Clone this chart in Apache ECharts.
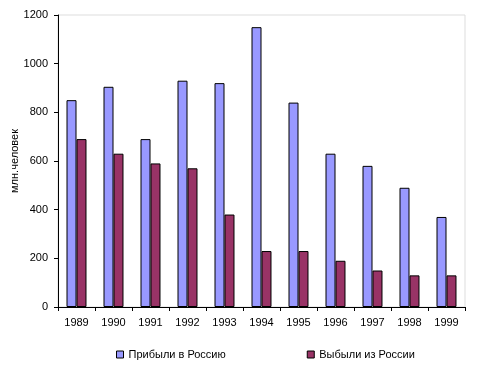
<!DOCTYPE html>
<html><head><meta charset="utf-8">
<script src="https://cdn.jsdelivr.net/npm/echarts@6/dist/echarts.min.js"></script>
<style>html,body{margin:0;padding:0;background:#fff}#c{width:480px;height:372px}</style>
</head><body><div id="c"></div>
<script>
var categories = ['1989','1990','1991','1992','1993','1994','1995','1996','1997','1998','1999'];
var arrived = [850, 905, 690, 930, 920, 1150, 840, 630, 580, 490, 370];
var departed = [690, 630, 590, 570, 380, 230, 230, 190, 150, 130, 130];
var seriesNames = ['Прибыли в Россию', 'Выбыли из России'];
var yAxisName = 'млн.человек';

var font = 'Arial, "Liberation Sans", sans-serif';
var chart = echarts.init(document.getElementById('c'), null, {renderer:'canvas'});
chart.setOption({
  animation: false,
  textStyle: {fontFamily: font},
  grid: {left: 58, right: 15, top: 15, bottom: 65, show: true, borderColor: '#dddddd', borderWidth: 1,
         containLabel: false, outerBoundsMode: 'none'},
  legend: {
    left: 111, top: 344, itemWidth: 7, itemHeight: 7, itemGap: 81,
    textStyle: {fontFamily: font, fontSize: 11, color: '#000'},
    data: [
      {name: seriesNames[0], icon: 'rect', itemStyle: {borderColor: '#000', borderWidth: 1}},
      {name: seriesNames[1], icon: 'rect', itemStyle: {borderColor: '#000', borderWidth: 1}}
    ]
  },
  xAxis: {
    type: 'category', data: categories,
    axisLine: {lineStyle: {color: '#000'}},
    axisTick: {show: true, length: 4, lineStyle: {color: '#000'}},
    axisLabel: {color: '#000', fontSize: 11, fontFamily: font, margin: 10}
  },
  yAxis: {
    type: 'value', min: 0, max: 1200, interval: 200,
    name: yAxisName, nameLocation: 'middle', nameGap: 38, nameMoveOverlap: false,
    nameTextStyle: {color: '#000', fontSize: 11, fontFamily: font},
    axisLine: {show: true, lineStyle: {color: '#000'}},
    axisTick: {show: true, length: 4, lineStyle: {color: '#000'}},
    axisLabel: {color: '#000', fontSize: 11, fontFamily: font, margin: 10,
                formatter: function (v) { return String(v); }},
    splitLine: {show: false}
  },
  series: [
    {name: seriesNames[0], type: 'bar', data: arrived, barGap: '0%', barCategoryGap: '46%',
     itemStyle: {color: '#9999FF', borderColor: '#000', borderWidth: 1}},
    {name: seriesNames[1], type: 'bar', data: departed, barGap: '0%', barCategoryGap: '46%',
     itemStyle: {color: '#993366', borderColor: '#000', borderWidth: 1}}
  ]
});
</script></body></html>
